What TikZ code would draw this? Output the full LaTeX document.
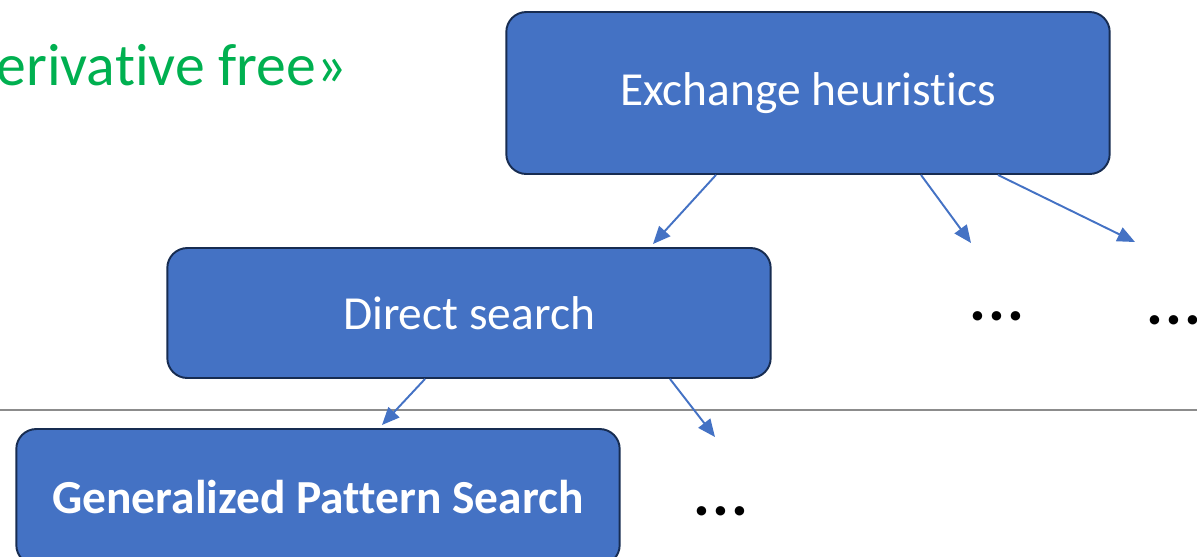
\documentclass[tikz,border=0pt]{standalone}
\usepackage{fontspec}
\setmainfont{Carlito}[Ligatures=NoCommon]
\usetikzlibrary{arrows.meta}
\definecolor{boxblue}{HTML}{4472C4}
\definecolor{boxedge}{HTML}{172C51}
\definecolor{dfgreen}{HTML}{00B050}
\definecolor{rulegray}{HTML}{8C8C8C}

\begin{document}
\begin{tikzpicture}[
  x=0.02cm, y=-0.02cm,
  method/.style = {draw=boxedge, fill=boxblue, line width=1.1pt, rounded corners=0.4cm,
                   text=white, minimum width=12.07cm, align=center, inner sep=0pt,
                   font=\fontsize{27}{32}\selectfont},
  more/.style   = {font=\fontsize{36}{40}\selectfont\bfseries, inner sep=0pt},
  link/.style   = {draw=boxblue, line width=1.1pt, -{Triangle[length=10pt, width=8.5pt]}},
]
\useasboundingbox (0,0) rectangle (1197,556);
\clip (0,0) rectangle (1197,556);
% title, runs off the left edge
\node[font=\fontsize{34}{40}\selectfont, text=dfgreen, anchor=base east, inner sep=0pt] (title) at (347,85) {«Derivative free»};
% separator
\draw[rulegray, line width=1.1pt] (0,410) -- (1197,410);
% boxes
\node[method, minimum height=3.24cm] (exch) at (808,93) {Exchange heuristics};
\node[method, minimum height=2.6cm] (ds) at (469,313) {Direct search};
\node[method, minimum height=2.72cm, font=\fontsize{27}{32}\selectfont\bfseries] (gps) at (318,497) {Generalized Pattern Search};
% other branches
\node[more] (dotsA) at (997,316) {.\kern1pt.\kern1pt.};
\node[more] (dotsB) at (1174,320) {.\kern1pt.\kern1pt.};
\node[more] (dotsC) at (721,511) {.\kern1pt.\kern1pt.};
\coordinate (endA) at (971,243);
\coordinate (endB) at (1135,242);
\coordinate (endC) at (715,437);
% arrows
\draw[link] (716,0 |- exch.south) -- (653,244);
\draw[link] (921,0 |- exch.south) -- (endA);
\draw[link] (998,0 |- exch.south) -- (endB);
\draw[link] (425,0 |- ds.south) -- (382,425);
\draw[link] (670,0 |- ds.south) -- (endC);
\end{tikzpicture}
\end{document}
